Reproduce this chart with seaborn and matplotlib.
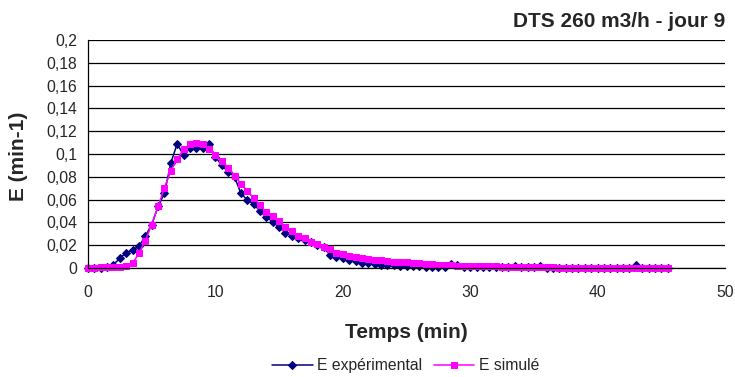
import matplotlib
matplotlib.use("Agg")
import matplotlib.pyplot as plt
import seaborn as sns
import numpy as np

#%% Data %%#
# temps (min), pas de 0,5 min
temps = [0.0, 0.5, 1.0, 1.5, 2.0, 2.5, 3.0, 3.5, 4.0, 4.5,
         5.0, 5.5, 6.0, 6.5, 7.0, 7.5, 8.0, 8.5, 9.0, 9.5,
         10.0, 10.5, 11.0, 11.5, 12.0, 12.5, 13.0, 13.5, 14.0, 14.5,
         15.0, 15.5, 16.0, 16.5, 17.0, 17.5, 18.0, 18.5, 19.0, 19.5,
         20.0, 20.5, 21.0, 21.5, 22.0, 22.5, 23.0, 23.5, 24.0, 24.5,
         25.0, 25.5, 26.0, 26.5, 27.0, 27.5, 28.0, 28.5, 29.0, 29.5,
         30.0, 30.5, 31.0, 31.5, 32.0, 32.5, 33.0, 33.5, 34.0, 34.5,
         35.0, 35.5, 36.0, 36.5, 37.0, 37.5, 38.0, 38.5, 39.0, 39.5,
         40.0, 40.5, 41.0, 41.5, 42.0, 42.5, 43.0, 43.5, 44.0, 44.5,
         45.0, 45.5]

e_exp = [0, 0, 0, 0.001, 0.003, 0.0085, 0.0134, 0.016, 0.019, 0.028,
         0.038, 0.054, 0.0655, 0.092, 0.109, 0.099, 0.1055, 0.1055, 0.1055, 0.1085,
         0.0975, 0.090, 0.0845, 0.080, 0.0655, 0.0597, 0.056, 0.050, 0.0445, 0.0406,
         0.0357, 0.031, 0.028, 0.0266, 0.0246, 0.023, 0.020, 0.018, 0.0114, 0.0099,
         0.0085, 0.007, 0.0061, 0.0046, 0.004, 0.0032, 0.003, 0.0025, 0.0025, 0.002,
         0.0018, 0.0015, 0.0015, 0.0012, 0.0012, 0.001, 0.0012, 0.0035, 0.0025, 0.0012,
         0.001, 0.001, 0.001, 0.0008, 0.0008, 0.0012, 0.0012, 0.0015, 0.0008, 0.0005,
         0.0005, 0.0018, 0.0004, 0.0004, 0.0003, 0.0003, 0.0003, 0.0003, 0.0004, 0.0003,
         0.0003, 0.0002, 0.0002, 0.0002, 0.0003, 0.0004, 0.0022, 0.0003, 0.0002, 0.0002,
         0.0002, 0.0002]

e_sim = [0, 0, 0.0005, 0.0005, 0.0005, 0.0008, 0.002, 0.004, 0.013, 0.024,
         0.038, 0.054, 0.0705, 0.085, 0.0955, 0.104, 0.1085, 0.110, 0.1085, 0.104,
         0.099, 0.094, 0.0875, 0.081, 0.074, 0.0675, 0.0615, 0.055, 0.049, 0.0455,
         0.0415, 0.036, 0.0325, 0.028, 0.026, 0.023, 0.021, 0.0187, 0.0164, 0.0134,
         0.0123, 0.0105, 0.0094, 0.0085, 0.0076, 0.007, 0.0068, 0.006, 0.0052, 0.0055,
         0.005, 0.0045, 0.004, 0.0036, 0.0032, 0.0028, 0.0024, 0.0022, 0.002, 0.0019,
         0.0018, 0.0017, 0.0016, 0.0015, 0.0014, 0.0013, 0.0011, 0.001, 0.0009, 0.0008,
         0.0007, 0.0006, 0.0005, 0.0005, 0.0004, 0.0004, 0.0004, 0.0003, 0.0003, 0.0003,
         0.0003, 0.0003, 0.0002, 0.0002, 0.0002, 0.0002, 0.0002, 0.0002, 0.0002, 0.0001,
         0.0001, 0.0001]

xticks = [0, 10, 20, 30, 40, 50]
yticks = [0, 0.02, 0.04, 0.06, 0.08, 0.1, 0.12, 0.14, 0.16, 0.18, 0.2]
ytick_labels = ["0", "0,02", "0,04", "0,06", "0,08", "0,1",
                "0,12", "0,14", "0,16", "0,18", "0,2"]

#%% Plot %%#
sns.set_style("white")
plt.rcParams['font.family'] = ['Liberation Sans', 'DejaVu Sans']

fig = plt.figure(figsize=(7.35, 3.77), dpi=100)
ax = fig.add_axes([88/735, 1-268/377, (725-88)/735, (268-40)/377])

navy = '#000080'
mag = '#FF00FF'

sns.lineplot(x=temps, y=e_exp, ax=ax, color=navy, marker='D', markersize=4.5,
             markeredgecolor=navy, linewidth=1.1, label='E expérimental', clip_on=False)
sns.lineplot(x=temps, y=e_sim, ax=ax, color=mag, marker='s', markersize=5,
             markeredgecolor=mag, linewidth=1.1, label='E simulé', clip_on=False)

ax.set_xlim(0, 50)
ax.set_ylim(0, 0.2)
ax.set_xticks(xticks)
ax.set_yticks(yticks)
ax.set_yticklabels(ytick_labels)
ax.tick_params(axis='both', direction='out', length=5, width=0.8, color='black',
               labelsize=11.3, pad=3)
ax.tick_params(axis='x', pad=7.5)
ax.yaxis.grid(True, color='black', linewidth=0.9)
ax.set_axisbelow(True)
for s in ['top', 'right']:
    ax.spines[s].set_visible(False)
for s in ['left', 'bottom']:
    ax.spines[s].set_color('black')
    ax.spines[s].set_linewidth(0.9)
ax.set_xlabel('')
ax.set_ylabel('')

handles, labels = ax.get_legend_handles_labels()
ax.get_legend().remove()
fig.legend(handles, labels, loc='center', bbox_to_anchor=(0.552, 0.03), ncol=2,
           frameon=False, fontsize=11.3, handlelength=2.6, columnspacing=0.7,
           handletextpad=0.3)

fig.text(406/735, 1-338/377, 'Temps (min)', ha='center', va='baseline',
         fontsize=15, fontweight='bold')
fig.text(19/735, 1-156/377, 'E (min-1)', ha='center', va='center',
         rotation=90, fontsize=15, fontweight='bold')
fig.text(725/735, 1-27/377, 'DTS 260 m3/h - jour 9', ha='right', va='baseline',
         fontsize=15, fontweight='bold')

fig.savefig('out.png', dpi=100)
